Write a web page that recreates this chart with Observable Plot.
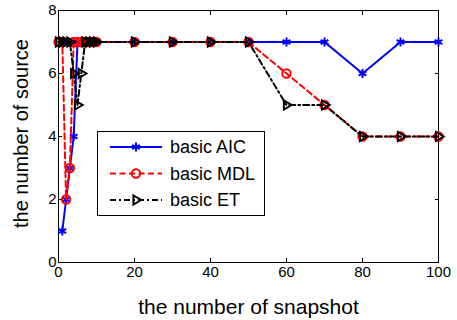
<!DOCTYPE html>
<html>
<head>
<meta charset="utf-8">
<script src="https://cdn.jsdelivr.net/npm/d3@7"></script>
<script src="https://cdn.jsdelivr.net/npm/@observablehq/plot@0.6"></script>
<style>
  html, body { margin: 0; padding: 0; background: #fff; }
  #chart { width: 457px; height: 320px; }
</style>
</head>
<body>
<div id="chart"></div>
<script>
const snapshots = [0, 1, 2, 3, 4, 5, 6, 7, 8, 9, 10, 20, 30, 40, 50, 60, 70, 80, 90, 100];
const aicValues = [null, 1, 2, 3, 4, 7, 7, 7, 7, 7, 7, 7, 7, 7, 7, 7, 7, 6, 7, 7];
const mdlValues = [7, 7, 2, 3, 7, 7, 7, 7, 7, 7, 7, 7, 7, 7, 7, 6, 5, 4, 4, 4];
const etValues  = [7, 7, 7, 7, 6, 5, 6, 7, 7, 7, 7, 7, 7, 7, 7, 5, 5, 4, 4, 4];
const seriesNames = ["basic AIC", "basic MDL", "basic ET"];
const xTicks = [0, 20, 40, 60, 80, 100];
const yTicks = [0, 2, 4, 6, 8];
const xTitle = "the number of snapshot";
const yTitle = "the number of source";

const toRows = vals => snapshots.map((x, i) => ({x, y: vals[i]})).filter(d => d.y != null);
const aic = toRows(aicValues), mdl = toRows(mdlValues), et = toRows(etValues);

const font = "Liberation Sans, Arial, Helvetica, sans-serif";
const styles = [
  {stroke: "#0000ff", dash: null, symbol: "asterisk", r: 4.2, rotate: 0},
  {stroke: "#ff0000", dash: "6,3.5", symbol: "circle", r: 4.2, rotate: 0},
  {stroke: "#000000", dash: "6,3,2,3", symbol: "triangle2", r: 4.3, rotate: 90}
];

const plot = Plot.plot({
  width: 457,
  height: 320,
  marginLeft: 58,
  marginRight: 19,
  marginTop: 10,
  marginBottom: 58,
  style: {fontFamily: font, background: "white", overflow: "visible"},
  x: {domain: [0, 100]},
  y: {domain: [0, 8]},
  marks: [
    Plot.axisX({ticks: xTicks, tickSize: -4, tickPadding: 8, fontSize: 15, label: null, color: "black"}),
    Plot.axisX({ticks: xTicks, anchor: "top", tickSize: -4, tickFormat: () => "", label: null}),
    Plot.axisY({ticks: yTicks, tickSize: -4, tickPadding: 6, fontSize: 15, label: null, color: "black"}),
    Plot.axisY({ticks: yTicks, anchor: "right", tickSize: -4, tickFormat: () => "", label: null}),
    Plot.frame({stroke: "black", strokeWidth: 1}),
    ...[aic, mdl, et].flatMap((data, i) => [
      Plot.line(data, {x: "x", y: "y", stroke: styles[i].stroke, strokeWidth: 2, strokeDasharray: styles[i].dash}),
      Plot.dot(data, {x: "x", y: "y", symbol: styles[i].symbol, r: styles[i].r, rotate: styles[i].rotate, stroke: styles[i].stroke, strokeWidth: 2, fill: "none"})
    ]),
    Plot.text([xTitle], {text: d => d, frameAnchor: "bottom", textAnchor: "middle", dy: 45, fontSize: 21, lineAnchor: "middle", fill: "black"}),
    Plot.text([yTitle], {text: d => d, frameAnchor: "left", textAnchor: "middle", dx: -37, dy: -3, rotate: -90, fontSize: 20, lineAnchor: "middle", fill: "black"})
  ]
});

// Legend box (inside the plot, upper-left of centre)
const svg = d3.select(plot);
const lg = svg.append("g").attr("font-family", font).attr("text-anchor", "start");
lg.append("rect").attr("x", 97.5).attr("y", 131.5).attr("width", 167).attr("height", 84)
  .attr("fill", "white").attr("stroke", "black").attr("stroke-width", 1);
seriesNames.forEach((name, i) => {
  const yy = 147 + i * 26.5;
  const s = styles[i];
  lg.append("line").attr("x1", 110).attr("x2", 162).attr("y1", yy).attr("y2", yy)
    .attr("stroke", s.stroke).attr("stroke-width", 2).attr("stroke-dasharray", s.dash);
  const sym = {asterisk: d3.symbolAsterisk, circle: d3.symbolCircle, triangle2: d3.symbolTriangle2}[s.symbol];
  lg.append("path").attr("d", d3.symbol(sym, Math.PI * s.r * s.r)())
    .attr("transform", `translate(136,${yy}) rotate(${s.rotate})`)
    .attr("fill", "none")
    .attr("stroke", s.stroke).attr("stroke-width", 2);
  lg.append("text").attr("x", 170).attr("y", yy).attr("dy", "0.35em")
    .attr("font-size", 18).attr("fill", "black").text(name);
});

document.getElementById("chart").appendChild(plot);
</script>
</body>
</html>
